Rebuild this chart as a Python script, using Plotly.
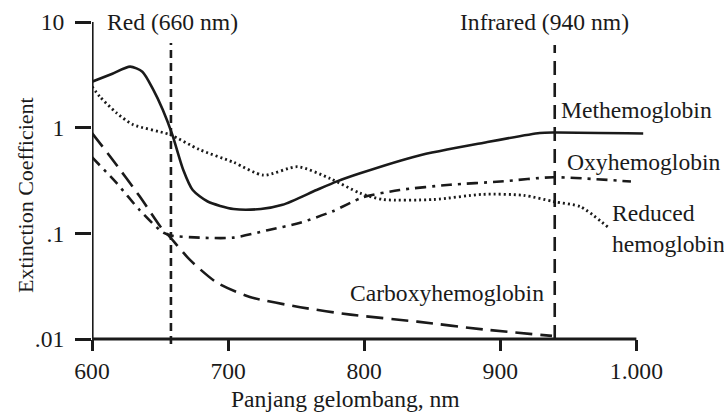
import plotly.graph_objects as go

# ---------------- data ----------------
met_wl = [600, 615, 628, 637, 645, 652, 659, 667, 674, 685, 704, 724, 740, 765, 780, 797, 839, 888, 929, 940, 1005]
met_val = [2.72, 3.24, 3.78, 3.39, 2.29, 1.48, 0.86, 0.40, 0.257, 0.20, 0.17, 0.17, 0.186, 0.257, 0.31, 0.37, 0.54, 0.72, 0.89, 0.90, 0.88]

oxy_wl = [600, 618, 635, 652, 659, 679, 704, 729, 753, 777, 799, 826, 863, 900, 939, 996]
oxy_val = [0.525, 0.30, 0.166, 0.102, 0.095, 0.091, 0.091, 0.107, 0.126, 0.162, 0.219, 0.257, 0.288, 0.309, 0.339, 0.309]

red_wl = [600, 606, 618, 630, 657, 679, 704, 726, 751, 775, 797, 814, 851, 887, 917, 939, 959, 980]
red_val = [2.45, 1.95, 1.38, 1.07, 0.86, 0.62, 0.47, 0.355, 0.427, 0.33, 0.24, 0.209, 0.209, 0.234, 0.229, 0.20, 0.178, 0.112]

carb_wl = [600, 615, 635, 652, 657, 672, 692, 716, 753, 790, 839, 888, 938]
carb_val = [0.89, 0.50, 0.224, 0.108, 0.093, 0.056, 0.034, 0.025, 0.020, 0.017, 0.0146, 0.0123, 0.0107]

x_ticks = [600, 700, 800, 900, 1000]
x_ticklabels = ["600", "700", "800", "900", "1.000"]
y_ticks = [0.01, 0.1, 1, 10]
y_ticklabels = [".01", ".1", "1", "10"]

red_line_wl = 658
ir_line_wl = 940

# ---------------- layout helpers ----------------
W, H = 724, 412
L, R, T, B = 92, 74, 22, 73
PW, PH = W - L - R, H - T - B


def px(x):
    return (x - L) / PW


def py(y):
    return (H - B - y) / PH


FONT = "Liberation Serif, Times New Roman, serif"
ink = "#1a1a1a"
FS = 23.6

fig = go.Figure()

fig.add_trace(go.Scatter(x=met_wl, y=met_val, mode="lines", name="Methemoglobin",
                         line=dict(color=ink, width=2.6, shape="spline", smoothing=0.7)))
fig.add_trace(go.Scatter(x=oxy_wl, y=oxy_val, mode="lines", name="Oxyhemoglobin",
                         line=dict(color=ink, width=2.6, shape="spline", smoothing=0.7,
                                   dash="11px,6px,3px,6px")))
fig.add_trace(go.Scatter(x=red_wl, y=red_val, mode="lines", name="Reduced hemoglobin",
                         line=dict(color=ink, width=2.8, shape="spline", smoothing=0.7,
                                   dash="2px,3px")))
fig.add_trace(go.Scatter(x=carb_wl, y=carb_val, mode="lines", name="Carboxyhemoglobin",
                         line=dict(color=ink, width=2.6, shape="spline", smoothing=0.7,
                                   dash="17px,8px")))

# vertical wavelength markers
fig.add_shape(type="line", xref="x", yref="paper", x0=red_line_wl, x1=red_line_wl,
              y0=-0.016, y1=py(43), line=dict(color=ink, width=2.6, dash="8px,5px"))
fig.add_shape(type="line", xref="x", yref="paper", x0=ir_line_wl, x1=ir_line_wl,
              y0=0, y1=py(45), line=dict(color=ink, width=2.6, dash="14px,8px"))

# axis lines (x axis stops at 1000)
fig.add_shape(type="line", xref="x", yref="paper", x0=600, x1=1000, y0=0, y1=0,
              line=dict(color=ink, width=3.2))
fig.add_shape(type="line", xref="x", yref="paper", x0=600, x1=600, y0=0, y1=1,
              line=dict(color=ink, width=3.2))

ann_font = dict(family=FONT, size=FS, color=ink)
annos = [
    ("Red (660 nm)", 105, 22, "left"),
    ("Infrared (940 nm)", 544, 22, "center"),
    ("Methemoglobin", 559, 110, "left"),
    ("Oxyhemoglobin", 565, 162, "left"),
    ("Reduced<br>hemoglobin", 610, 228, "left"),
    ("Carboxyhemoglobin", 348, 293, "left"),
]
for text, ax_, ay_, anchor in annos:
    fig.add_annotation(x=px(ax_), y=py(ay_), xref="paper", yref="paper", text=text,
                       showarrow=False, xanchor=anchor, yanchor="middle", align="left",
                       font=ann_font)

fig.add_annotation(x=px(26), y=py(195), xref="paper", yref="paper", text="Extinction Coefficient",
                   showarrow=False, textangle=-90, xanchor="center", yanchor="middle",
                   font=dict(family=FONT, size=22, color=ink))
fig.add_annotation(x=px(345), y=py(399), xref="paper", yref="paper", text="Panjang gelombang, nm",
                   showarrow=False, xanchor="center", yanchor="middle",
                   font=dict(family=FONT, size=FS, color=ink))

fig.update_layout(
    width=W, height=H,
    margin=dict(l=L, r=R, t=T, b=B, pad=0, autoexpand=False),
    paper_bgcolor="white", plot_bgcolor="white",
    showlegend=False,
    font=dict(family=FONT, size=FS, color=ink),
    xaxis=dict(range=[600, 1010], showgrid=False, zeroline=False, showline=False,
               automargin=False,
               tickmode="array", tickvals=x_ticks, ticktext=x_ticklabels,
               ticks="outside", ticklen=11, tickwidth=3.2, tickcolor=ink,
               tickfont=dict(family=FONT, size=FS, color=ink), ticklabelstandoff=0),
    yaxis=dict(type="log", range=[-2, 1], showgrid=False, zeroline=False, showline=False,
               automargin=False,
               tickmode="array", tickvals=y_ticks, ticktext=y_ticklabels,
               ticks="outside", ticklen=16, tickwidth=3.2, tickcolor=ink,
               tickfont=dict(family=FONT, size=FS, color=ink), ticklabelstandoff=6),
)

fig.write_html("out.html", config={"displayModeBar": False},
               post_script="document.body.style.margin='0';")
